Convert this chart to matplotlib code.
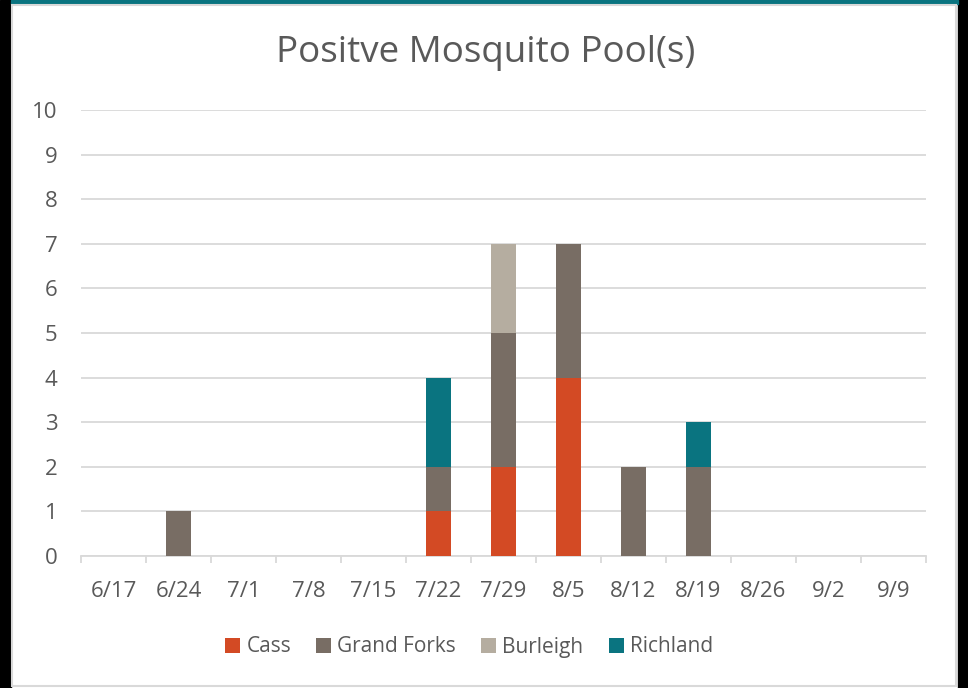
import matplotlib.pyplot as plt
from matplotlib.patches import Rectangle
import numpy as np

plt.rcParams['font.family'] = ['Open Sans', 'DejaVu Sans']

weeks = ['6/17', '6/24', '7/1', '7/8', '7/15', '7/22', '7/29',
         '8/5', '8/12', '8/19', '8/26', '9/2', '9/9']
cass = [0, 0, 0, 0, 0, 1, 2, 4, 0, 0, 0, 0, 0]
grand_forks = [0, 1, 0, 0, 0, 1, 3, 3, 2, 2, 0, 0, 0]
burleigh = [0, 0, 0, 0, 0, 0, 2, 0, 0, 0, 0, 0, 0]
richland = [0, 0, 0, 0, 0, 2, 0, 0, 0, 1, 0, 0, 0]

series = [('Cass', cass, '#D34A24'),
          ('Grand Forks', grand_forks, '#786D64'),
          ('Burleigh', burleigh, '#B5ADA0'),
          ('Richland', richland, '#0A7480')]

text_col = '#595959'
grid_col = '#D9D9D9'

fig = plt.figure(figsize=(9.68, 6.88), dpi=100)
ax = fig.add_axes([81 / 968, 1 - 556 / 688, 845 / 968, 446 / 688])

x = np.arange(len(weeks))
bottom = np.zeros(len(weeks))
for name, vals, col in series:
    vals = np.array(vals, dtype=float)
    ax.bar(x, vals, width=0.39, bottom=bottom, color=col, label=name, zorder=3)
    bottom += vals

ax.set_xlim(-0.5, len(weeks) - 0.5)
ax.set_ylim(0, 10)
ax.set_yticks(range(0, 11))
ax.yaxis.grid(True, color=grid_col, linewidth=1.3, zorder=0)
ax.tick_params(axis='y', length=0, pad=17, labelsize=16, labelcolor=text_col)

# category labels sit between the boundary tick marks
ax.set_xticks(np.arange(-0.5, len(weeks)), minor=False)
ax.set_xticklabels([])
ax.set_xticks(x, minor=True)
ax.set_xticklabels(weeks, minor=True)
ax.tick_params(axis='x', which='major', length=5, color=grid_col, width=1.3)
ax.tick_params(axis='x', which='minor', length=0, pad=18, labelsize=16, labelcolor=text_col)

for s in ['top', 'right', 'left']:
    ax.spines[s].set_visible(False)
ax.spines['bottom'].set_color(grid_col)
ax.spines['bottom'].set_linewidth(1.3)

fig.text(486 / 968, 1 - 62 / 688, 'Positve Mosquito Pool(s)', ha='center', va='baseline',
         fontsize=26.5, color=text_col)

fig.legend(loc='center', bbox_to_anchor=(469 / 968, 1 - 647 / 688), ncol=4,
           frameon=False, fontsize=15, handlelength=0.72, handleheight=0.72,
           handletextpad=0.3, columnspacing=1.2, labelcolor=text_col)

# outer frame: dark side bars, teal top band, light inner border
W, H = 968, 688
def px_rect(x0, y0, w, h, color, **kw):
    fig.patches.append(Rectangle((x0 / W, 1 - (y0 + h) / H), w / W, h / H,
                                 transform=fig.transFigure, color=color, **kw))

px_rect(0, 0, 11, H, 'black')
px_rect(958, 0, 10, H, 'black')
px_rect(11, 0, 947, 4, '#0A7480')
fig.patches.append(Rectangle((12 / W, 1 - 686 / H), 944 / W, 681 / H,
                             transform=fig.transFigure, fill=False,
                             edgecolor='#D9D9D9', linewidth=1.5))

fig.savefig('out.png', dpi=100)
